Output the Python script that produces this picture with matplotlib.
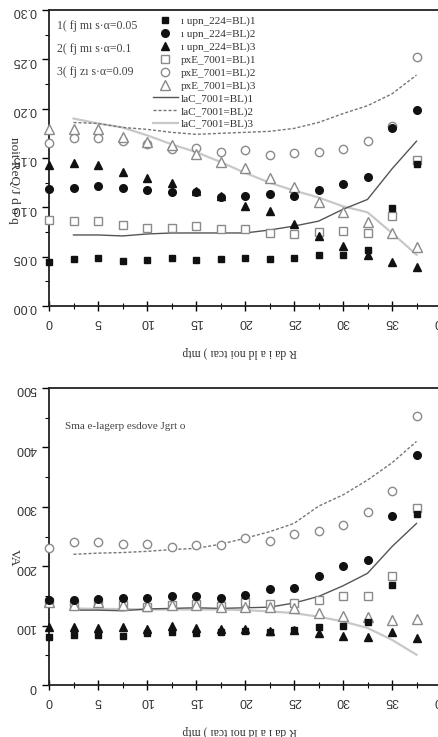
import matplotlib
matplotlib.use("Agg")
import matplotlib.pyplot as plt
from matplotlib.ticker import MultipleLocator, FixedLocator, FixedFormatter

# ---------------- data ----------------
x = [0, 2.5, 5, 7.5, 10, 12.5, 15, 17.5, 20, 22.5, 25, 27.5, 30, 32.5, 35, 37.5]
x_cal = [2.5, 5, 7.5, 10, 12.5, 15, 17.5, 20, 22.5, 25, 27.5, 30, 32.5, 35, 37.5]

# top panel
top_m1 = [0.045, 0.048, 0.049, 0.046, 0.047, 0.049, 0.047, 0.048, 0.049, 0.048, 0.049, 0.052, 0.052, 0.057, 0.099, 0.144]
top_m2 = [0.119, 0.120, 0.122, 0.120, 0.118, 0.116, 0.116, 0.110, 0.111, 0.114, 0.111, 0.118, 0.124, 0.131, 0.180, 0.199]
top_m3 = [0.143, 0.145, 0.143, 0.136, 0.130, 0.125, 0.117, 0.111, 0.101, 0.096, 0.083, 0.071, 0.061, 0.052, 0.045, 0.040]
top_e1 = [0.087, 0.086, 0.086, 0.082, 0.079, 0.079, 0.081, 0.078, 0.078, 0.074, 0.073, 0.075, 0.076, 0.074, 0.091, 0.148]
top_e2 = [0.165, 0.170, 0.170, 0.167, 0.164, 0.159, 0.160, 0.156, 0.158, 0.153, 0.155, 0.156, 0.159, 0.167, 0.182, 0.252]
top_e3 = [0.179, 0.179, 0.179, 0.171, 0.166, 0.163, 0.154, 0.146, 0.140, 0.130, 0.121, 0.105, 0.095, 0.085, 0.074, 0.060]
top_c1 = [0.072, 0.072, 0.071, 0.073, 0.074, 0.074, 0.074, 0.074, 0.077, 0.081, 0.086, 0.098, 0.108, 0.139, 0.167]
top_c2 = [0.186, 0.185, 0.181, 0.179, 0.176, 0.174, 0.175, 0.176, 0.177, 0.180, 0.186, 0.195, 0.203, 0.215, 0.234]
top_c3 = [0.190, 0.185, 0.181, 0.173, 0.164, 0.156, 0.146, 0.135, 0.125, 0.117, 0.110, 0.101, 0.095, 0.074, 0.052]

# bottom panel
bot_m1 = [81, 85, 84, 83, 87, 90, 87, 90, 91, 89, 92, 97, 100, 106, 169, 288]
bot_m2 = [143, 143, 144, 147, 147, 149, 149, 146, 152, 162, 164, 184, 201, 211, 284, 387]
bot_m3 = [98, 97, 96, 97, 94, 99, 96, 94, 94, 91, 93, 87, 83, 80, 89, 79]
bot_e1 = [140, 136, 139, 135, 132, 135, 136, 133, 139, 136, 138, 143, 150, 149, 184, 298]
bot_e2 = [230, 240, 240, 237, 238, 232, 235, 235, 248, 243, 254, 260, 269, 291, 327, 453]
bot_e3 = [140, 135, 139, 135, 133, 135, 135, 132, 131, 131, 129, 122, 117, 114, 110, 111]
bot_c1 = [126, 126, 125, 128, 129, 130, 129, 130, 131, 138, 149, 167, 188, 233, 272]
bot_c2 = [220, 222, 223, 225, 228, 230, 237, 247, 258, 272, 301, 320, 345, 374, 410]
bot_c3 = [129, 128, 128, 127, 127, 127, 127, 126, 124, 121, 115, 107, 96, 76, 51]

legend_labels = ["ı upn_224=BL)1", "ı upn_224=BL)2", "ı upn_224=BL)3",
                 "pxE_7001=BL)1", "pxE_7001=BL)2", "pxE_7001=BL)3",
                 "laC_7001=BL)1", "laC_7001=BL)2", "laC_7001=BL)3"]
x_ticks = [0, 5, 10, 15, 20, 25, 30, 35, 40]
x_ticklabels = ["0", "5", "10", "15", "20", "25", "30", "35", "40"]
top_yticks = [0.00, 0.05, 0.10, 0.15, 0.20, 0.25, 0.30]
top_yticklabels = ["0.00", "0.05", "0.10", "0.15", "0.20", "0.25", "0.30"]
bot_yticks = [0, 100, 200, 300, 400, 500]
bot_yticklabels = ["0", "100", "200", "300", "400", "500"]
xlabel_text = "R da i a ld noi tcaı ) mtp"
top_ylabel = "noit ReQ/J d o q"
bot_ylabel = "VA"
top_notes = ["1( fj mı s·α=0.05", "2( fj mı s·α=0.1", "3( fj zı s·α=0.09"]
bot_note = "Sma e-lagerp esdove Jgrt o"

# ---------------- style ----------------
DARK = "#111111"
OPEN = "#8a8a8a"
SANS = ["Liberation Sans", "DejaVu Sans"]
SERIF = ["Liberation Serif", "DejaVu Serif"]

fig = plt.figure(figsize=(4.38, 7.37), dpi=100)
W, H = 438.0, 737.0
ax1 = fig.add_axes([49 / W, (H - 306) / H, 392 / W, 296 / H])
ax2 = fig.add_axes([49 / W, (H - 685) / H, 392 / W, 297 / H])


def draw(ax, m1, m2, m3, e1, e2, e3, c1, c2, c3):
    ms = 5.5
    h = []
    h += ax.plot(x, m1, ls="none", marker="s", ms=ms - 0.5, color=DARK, clip_on=False, zorder=5)
    h += ax.plot(x, m2, ls="none", marker="o", ms=ms, color=DARK, clip_on=False, zorder=5)
    h += ax.plot(x, m3, ls="none", marker="^", ms=ms + 0.5, color=DARK, clip_on=False, zorder=5)
    h += ax.plot(x, e1, ls="none", marker="s", ms=ms, mfc="white", mec=OPEN, mew=1.0, clip_on=False, zorder=4)
    h += ax.plot(x, e2, ls="none", marker="o", ms=ms + 0.5, mfc="white", mec=OPEN, mew=1.0, clip_on=False, zorder=4)
    h += ax.plot(x, e3, ls="none", marker="^", ms=ms + 1, mfc="white", mec=OPEN, mew=1.0, clip_on=False, zorder=4)
    h += ax.plot(x_cal, c1, ls="-", lw=1.0, color="#555555", zorder=3)
    h += ax.plot(x_cal, c2, ls=(0, (2.2, 1.4)), lw=1.0, color="#777777", zorder=3)
    h += ax.plot(x_cal, c3, ls="-", lw=1.6, color="#c8c8c8", zorder=2)
    ax.set_xlim(0, 40)
    ax.xaxis.set_major_locator(FixedLocator(x_ticks))
    ax.xaxis.set_major_formatter(FixedFormatter(x_ticklabels))
    ax.xaxis.set_minor_locator(MultipleLocator(2.5))
    for s in ["left", "bottom", "top"]:
        ax.spines[s].set_linewidth(1.3)
        ax.spines[s].set_color("#222222")
    ax.spines["right"].set_visible(False)
    ax.tick_params(axis="x", which="major", direction="inout", length=7, width=1.0, pad=4, labelsize=9)
    ax.tick_params(axis="x", which="minor", direction="inout", length=5, width=0.8)
    ax.tick_params(axis="y", which="major", direction="out", length=5, width=1.0, pad=4, labelsize=9)
    ax.tick_params(axis="y", which="minor", direction="out", length=3, width=0.8)
    for lab in ax.get_xticklabels():
        lab.set_rotation(180)
        lab.set_fontfamily(SANS)
        lab.set_color("#333333")
    return h


h = draw(ax1, top_m1, top_m2, top_m3, top_e1, top_e2, top_e3, top_c1, top_c2, top_c3)
ax1.set_ylim(0, 0.30)
ax1.yaxis.set_major_locator(FixedLocator(top_yticks))
ax1.yaxis.set_major_formatter(FixedFormatter(top_yticklabels))
ax1.yaxis.set_minor_locator(MultipleLocator(0.025))
for lab in ax1.get_yticklabels():
    lab.set_rotation(180)
    lab.set_fontfamily(SANS)
    lab.set_color("#333333")

draw(ax2, bot_m1, bot_m2, bot_m3, bot_e1, bot_e2, bot_e3, bot_c1, bot_c2, bot_c3)
ax2.set_ylim(0, 500)
ax2.yaxis.set_major_locator(FixedLocator(bot_yticks))
ax2.yaxis.set_major_formatter(FixedFormatter(bot_yticklabels))
ax2.yaxis.set_minor_locator(MultipleLocator(50))
for lab in ax2.get_yticklabels():
    lab.set_rotation(180)
    lab.set_fontfamily(SANS)
    lab.set_color("#333333")

leg = ax1.legend(h, legend_labels, loc="upper left", bbox_to_anchor=(0.25, 1.0),
                 frameon=False, handlelength=2.2, handletextpad=0.3,
                 labelspacing=0.26, borderaxespad=0.15, prop={"family": SERIF, "size": 8})
for t in leg.get_texts():
    t.set_color("#333333")

for i, s in enumerate(top_notes):
    ax1.text(0.02, 0.945 - i * 0.078, s, transform=ax1.transAxes, fontsize=8.5,
             family=SERIF, color="#444444", va="center", ha="left")
ax2.text(0.04, 0.87, bot_note, transform=ax2.transAxes, fontsize=8,
         family=SERIF, color="#444444", va="center", ha="left")

for yl, ypos in [(top_ylabel, 180), (bot_ylabel, 558)]:
    fig.text(14 / W, 1 - ypos / H, yl, rotation=270, fontsize=9.5, family=SERIF,
             color="#333333", ha="center", va="center")

fig.text(240 / W, 1 - 352 / H, xlabel_text, fontsize=8.5, family=SERIF,
         color="#333333", ha="center", va="center", rotation=180)
fig.text(240 / W, 1 - 731 / H, xlabel_text, fontsize=8.5, family=SERIF,
         color="#333333", ha="center", va="center", rotation=180)

fig.savefig("out.png", dpi=100, facecolor="white")
